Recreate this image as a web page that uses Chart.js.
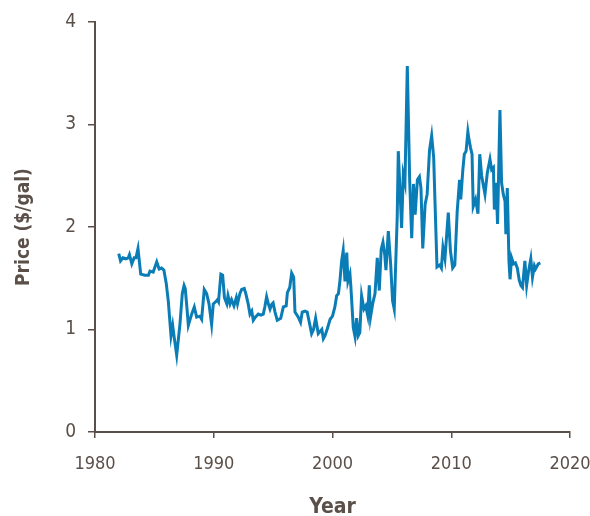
<!DOCTYPE html>
<html>
<head>
<meta charset="utf-8">
<script src="https://cdn.jsdelivr.net/npm/chart.js@4/dist/chart.umd.min.js"></script>
<style>
  html, body { margin: 0; padding: 0; background: #fff; }
  #wrap { width: 590px; height: 516px; }
</style>
</head>
<body>
<div id="wrap"><canvas id="precioChart" width="590" height="516"></canvas></div>
<script>
// Datos (año decimal, precio en $/gal)
const years = [
  1982.0, 1982.15, 1982.35, 1982.6, 1982.8, 1982.9, 1983.1, 1983.3, 1983.45, 1983.62,
  1983.85, 1984.2, 1984.5, 1984.63, 1984.9, 1985.2, 1985.4, 1985.6, 1985.8, 1986.0,
  1986.17, 1986.4, 1986.54, 1986.65, 1986.88, 1987.16, 1987.35, 1987.5, 1987.6, 1987.75,
  1987.86, 1988.14, 1988.36, 1988.56, 1988.84, 1988.98, 1989.2, 1989.4, 1989.6, 1989.82,
  1989.96, 1990.16, 1990.3, 1990.4, 1990.6, 1990.75, 1990.9, 1991.1, 1991.2, 1991.37,
  1991.5, 1991.7, 1991.9, 1992.0, 1992.2, 1992.35, 1992.57, 1992.7, 1992.9, 1993.05,
  1993.2, 1993.33, 1993.5, 1993.75, 1993.97, 1994.17, 1994.3, 1994.45, 1994.6, 1994.74,
  1994.88, 1995.0, 1995.16, 1995.35, 1995.64, 1995.86, 1996.1, 1996.2, 1996.4, 1996.56,
  1996.73, 1996.84, 1997.12, 1997.31, 1997.45, 1997.68, 1997.87, 1998.1, 1998.24, 1998.4,
  1998.58, 1998.8, 1998.95, 1999.1, 1999.23, 1999.37, 1999.57, 1999.8, 2000.0, 2000.2,
  2000.35, 2000.5, 2000.63, 2000.77, 2000.9, 2001.05, 2001.2, 2001.3, 2001.47, 2001.55,
  2001.75, 2001.9, 2002.03, 2002.17, 2002.3, 2002.45, 2002.65, 2002.8, 2002.96, 2003.1,
  2003.2, 2003.4, 2003.58, 2003.77, 2003.94, 2004.1, 2004.25, 2004.4, 2004.5, 2004.7,
  2004.9, 2005.06, 2005.2, 2005.45, 2005.54, 2005.82, 2005.96, 2006.1, 2006.3, 2006.5,
  2006.67, 2006.82, 2006.96, 2007.15, 2007.32, 2007.45, 2007.6, 2007.8, 2007.97, 2008.17,
  2008.35, 2008.52, 2008.63, 2008.8, 2009.03, 2009.17, 2009.3, 2009.47, 2009.75, 2009.93,
  2010.12, 2010.3, 2010.5, 2010.7, 2010.8, 2010.97, 2011.1, 2011.25, 2011.4, 2011.5,
  2011.63, 2011.75, 2011.85, 2012.05, 2012.25, 2012.4, 2012.56, 2012.84, 2013.04, 2013.26,
  2013.4, 2013.55, 2013.63, 2013.77, 2013.9, 2014.1, 2014.24, 2014.38, 2014.53, 2014.6,
  2014.72, 2014.86, 2014.95, 2015.08, 2015.25, 2015.4, 2015.56, 2015.73, 2015.87, 2016.0,
  2016.2, 2016.35, 2016.5, 2016.7, 2016.84, 2017.0, 2017.1, 2017.33, 2017.5
];
const prices = [
  1.74, 1.67, 1.70, 1.69, 1.70, 1.73, 1.64, 1.70, 1.70, 1.79,
  1.54, 1.53, 1.53, 1.57, 1.56, 1.66, 1.59, 1.60, 1.58, 1.45,
  1.28, 0.94, 1.04, 0.94, 0.75, 1.06, 1.35, 1.43, 1.40, 1.20,
  1.04, 1.15, 1.22, 1.12, 1.13, 1.10, 1.39, 1.35, 1.25, 1.05,
  1.25, 1.27, 1.29, 1.27, 1.54, 1.53, 1.31, 1.25, 1.33, 1.25,
  1.29, 1.23, 1.31, 1.25, 1.35, 1.39, 1.40, 1.35, 1.25, 1.15,
  1.18, 1.09, 1.12, 1.15, 1.14, 1.15, 1.22, 1.32, 1.25, 1.20,
  1.245, 1.26, 1.17, 1.09, 1.11, 1.22, 1.23, 1.36, 1.41, 1.55,
  1.51, 1.17, 1.12, 1.07, 1.17, 1.18, 1.17, 1.04, 0.96, 1.00,
  1.11, 0.96, 0.98, 1.00, 0.91, 0.94, 1.01, 1.10, 1.13, 1.22,
  1.33, 1.35, 1.48, 1.67, 1.77, 1.47, 1.75, 1.47, 1.54, 1.41,
  1.02, 0.93, 1.11, 0.94, 0.97, 1.33, 1.20, 1.23, 1.14, 1.43,
  1.12, 1.26, 1.35, 1.70, 1.38, 1.78, 1.85, 1.73, 1.58, 1.96,
  1.63, 1.28, 1.20, 2.10, 2.74, 1.99, 2.51, 2.43, 3.57, 2.45,
  1.89, 2.42, 2.12, 2.46, 2.49, 2.38, 1.79, 2.22, 2.32, 2.75,
  2.89, 2.68, 2.25, 1.61, 1.63, 1.60, 1.80, 1.69, 2.14, 1.77,
  1.60, 1.63, 2.15, 2.46, 2.27, 2.55, 2.71, 2.74, 2.93, 2.85,
  2.77, 2.71, 2.20, 2.27, 2.13, 2.71, 2.50, 2.32, 2.53, 2.66,
  2.56, 2.58, 2.17, 2.43, 2.03, 3.14, 2.43, 2.32, 2.25, 1.93,
  2.38, 1.67, 1.49, 1.70, 1.64, 1.65, 1.60, 1.48, 1.43, 1.41,
  1.67, 1.43, 1.56, 1.69, 1.51, 1.62, 1.59, 1.64, 1.65
];
const xTicks = [1980, 1990, 2000, 2010, 2020];
const yTicks = [0, 1, 2, 3, 4];

const ejeColor = "#5b4f49";
const fuenteNum = "'DejaVu Sans Condensed', 'Liberation Sans Narrow', 'Liberation Sans', sans-serif";

const puntos = years.map((y, i) => ({ x: y, y: prices[i] }));

const ctx = document.getElementById("precioChart").getContext("2d");
new Chart(ctx, {
    type: "line",
    data: {
        datasets: [{
            label: "Price",
            data: puntos,
            borderColor: "#0b7db6",
            borderWidth: 3,
            pointRadius: 0,
            tension: 0,
            fill: false
        }]
    },
    options: {
        responsive: false,
        animation: false,
        layout: { padding: { top: 22, right: 20, left: 0, bottom: 0 } },
        plugins: { legend: { display: false }, tooltip: { enabled: false } },
        scales: {
            x: {
                type: "linear",
                min: xTicks[0],
                max: xTicks[xTicks.length - 1],
                afterBuildTicks: s => { s.ticks = xTicks.map(v => ({ value: v })); },
                afterFit: s => { s.height = 84; s.paddingLeft = 0; s.paddingRight = 0; },
                grid: { drawOnChartArea: false, drawTicks: true, tickLength: 6, color: ejeColor, lineWidth: 1.5 },
                border: { display: true, color: ejeColor, width: 2 },
                ticks: {
                    color: ejeColor,
                    padding: 16,
                    maxRotation: 0,
                    font: { family: fuenteNum, size: 18 },
                    callback: v => String(v)
                },
                title: {
                    display: true,
                    text: "Year",
                    color: ejeColor,
                    font: { family: fuenteNum, size: 21, weight: "bold", lineHeight: 0.8 },
                    padding: { top: 0, bottom: 0 }
                }
            },
            y: {
                min: yTicks[0],
                max: yTicks[yTicks.length - 1],
                afterBuildTicks: s => { s.ticks = yTicks.map(v => ({ value: v })); },
                afterFit: s => { s.width = 95; s.paddingTop = 0; s.paddingBottom = 0; },
                grid: { drawOnChartArea: false, drawTicks: true, tickLength: 7, color: ejeColor, lineWidth: 1.5 },
                border: { display: true, color: ejeColor, width: 2 },
                ticks: {
                    color: ejeColor,
                    padding: 12,
                    font: { family: fuenteNum, size: 19 },
                    callback: v => String(v)
                },
                title: {
                    display: true,
                    text: "Price ($/gal)",
                    color: ejeColor,
                    font: { family: fuenteNum, size: 19, weight: "bold" },
                    padding: { top: 13, bottom: 0 }
                }
            }
        }
    }
});
</script>
</body>
</html>
